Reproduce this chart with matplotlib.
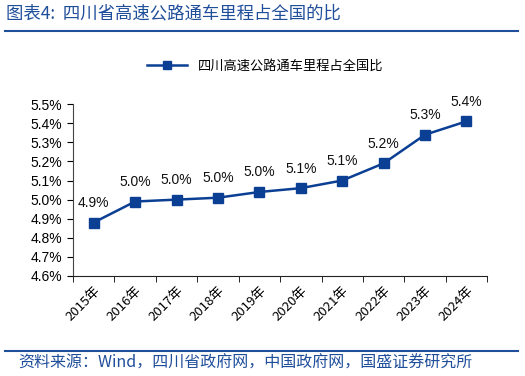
import numpy as np
import matplotlib.pyplot as plt
from matplotlib.lines import Line2D

plt.rcParams['font.family'] = ['DejaVu Sans', 'Noto Sans CJK SC']

# data
years = ['2015年', '2016年', '2017年', '2018年', '2019年',
         '2020年', '2021年', '2022年', '2023年', '2024年']
share = [4.88, 4.99, 5.00, 5.01, 5.04, 5.06, 5.10, 5.19, 5.34, 5.41]
labels = ['4.9%', '5.0%', '5.0%', '5.0%', '5.0%',
          '5.1%', '5.1%', '5.2%', '5.3%', '5.4%']
yticks = [4.6, 4.7, 4.8, 4.9, 5.0, 5.1, 5.2, 5.3, 5.4, 5.5]

line_color = '#0B3F94'
title_color = '#1F4E9A'
cjk = ['Noto Sans CJK SC', 'DejaVu Sans']

fig = plt.figure(figsize=(5.25, 3.76), dpi=100)
ax = fig.add_axes([0.139, 0.266, 0.789, 0.457])

x = np.arange(len(years))
ax.plot(x, share, color=line_color, lw=1.8, marker='s', ms=7,
        markerfacecolor=line_color, markeredgecolor=line_color)

for xi, yi, lab in zip(x, share, labels):
    ax.annotate(lab, (xi, yi), xytext=(0, 9), textcoords='offset points',
                ha='center', va='bottom', fontsize=10, color='#111111',
                family=['Liberation Sans', 'DejaVu Sans'])

ax.set_xlim(-0.5, len(years) - 0.5)
ax.set_ylim(4.6, 5.5)
ax.set_yticks(yticks)
ax.set_yticklabels(['%.1f%%' % v for v in yticks], fontsize=10,
                   family=['Liberation Sans', 'DejaVu Sans'])
ax.set_xticks(x)
ax.set_xticklabels(years, rotation=45, ha='right', rotation_mode='anchor',
                   fontsize=9.5, family=cjk)
ax.set_xticks(np.arange(-0.5, len(years)), minor=True)
ax.tick_params(axis='x', which='major', length=0, pad=6)
ax.tick_params(axis='x', which='minor', length=4, direction='out')
ax.tick_params(axis='y', length=4, direction='out', pad=4)

for s in ['top', 'right']:
    ax.spines[s].set_visible(False)
ax.spines['left'].set_color('#444444')
ax.spines['bottom'].set_color('#222222')

# legend
handle = Line2D([], [], color=line_color, lw=1.8, marker='s', ms=6)
fig.legend([handle], ['四川高速公路通车里程占全国比'], loc='center',
           bbox_to_anchor=(0.505, 0.825), frameon=False,
           prop={'family': cjk, 'size': 9.5}, handlelength=3.0)

# header and footer
fig.text(0.012, 0.965, '图表4:  四川省高速公路通车里程占全国的比', fontsize=12.5,
         color=title_color, family=cjk, va='center', ha='left', style='italic')
fig.add_artist(Line2D([0.01, 0.987], [0.918, 0.918], color=title_color, lw=1.5))
fig.add_artist(Line2D([0.01, 0.987], [0.066, 0.066], color=title_color, lw=1.5))
fig.text(0.035, 0.033, '资料来源：Wind，四川省政府网，中国政府网，国盛证券研究所',
         fontsize=11.5, color=title_color, family=cjk, va='center', ha='left',
         style='italic')

fig.savefig('out.png', dpi=100)
